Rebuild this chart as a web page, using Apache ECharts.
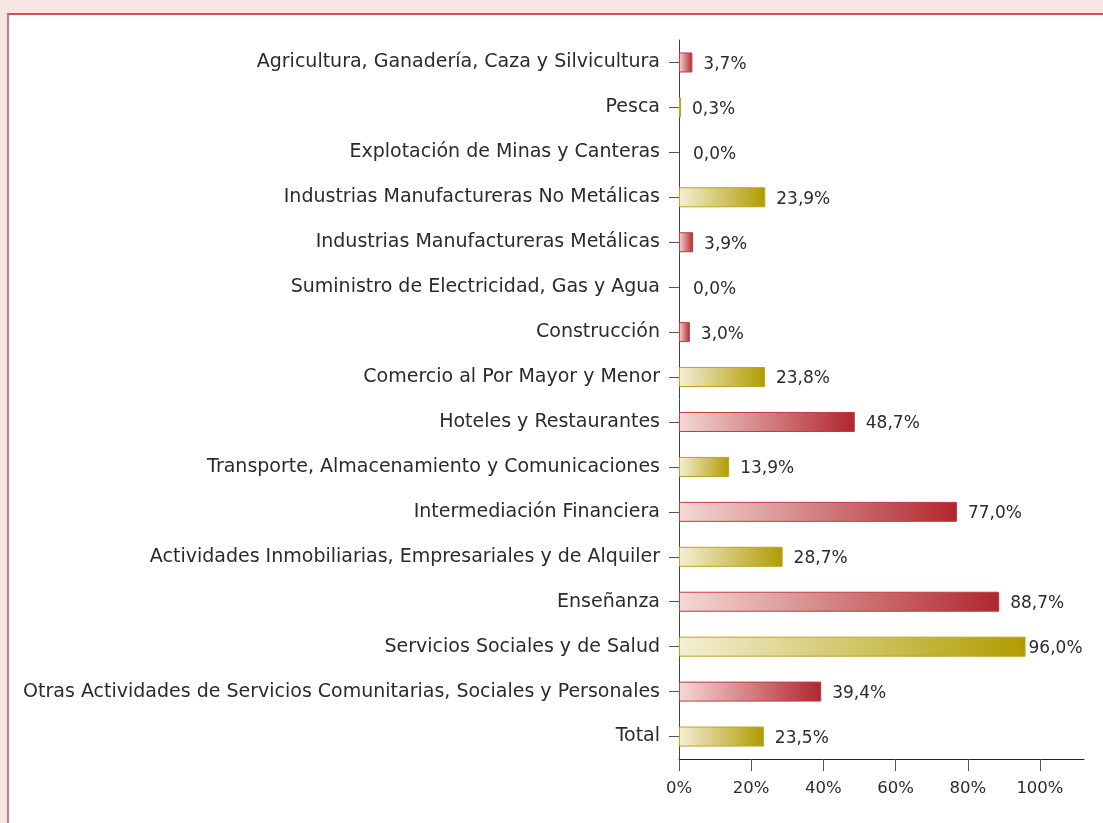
<!DOCTYPE html>
<html>
<head>
<meta charset="utf-8">
<script src="https://cdn.jsdelivr.net/npm/echarts@6/dist/echarts.min.js"></script>
<style>
  html, body { margin: 0; padding: 0; width: 1103px; height: 823px; overflow: hidden; background: #f7e6e1; }
  #frame { position: absolute; left: 7px; top: 13px; width: 1200px; height: 900px; background: #ffffff;
           border-top: 2px solid #c9555a; border-left: 2px solid #d27a7e; }
  #chart { position: absolute; left: 0; top: 0; width: 1103px; height: 823px; }
</style>
</head>
<body>
<div id="frame"></div>
<div id="chart"></div>
<script>
const categories = [
  'Agricultura, Ganadería, Caza y Silvicultura',
  'Pesca',
  'Explotación de Minas y Canteras',
  'Industrias Manufactureras No Metálicas',
  'Industrias Manufactureras Metálicas',
  'Suministro de Electricidad, Gas y Agua',
  'Construcción',
  'Comercio al Por Mayor y Menor',
  'Hoteles y Restaurantes',
  'Transporte, Almacenamiento y Comunicaciones',
  'Intermediación Financiera',
  'Actividades Inmobiliarias, Empresariales y de Alquiler',
  'Enseñanza',
  'Servicios Sociales y de Salud',
  'Otras Actividades de Servicios Comunitarias, Sociales y Personales',
  'Total'
];
const values = [3.7, 0.3, 0.0, 23.9, 3.9, 0.0, 3.0, 23.8, 48.7, 13.9, 77.0, 28.7, 88.7, 96.0, 39.4, 23.5];
const tickValues = [0, 20, 40, 60, 80, 100];

const FONT = 'DejaVu Sans';
const TEXT = '#2b2b2b';
const red = { from: '#f3d9d4', to: '#b0262e', border: '#c23a42' };
const olive = { from: '#f4efd6', to: '#b09c00', border: '#b9a51c' };

const data = values.map(function (v, i) {
  const c = (i % 2 === 0) ? red : olive;
  return {
    value: v,
    itemStyle: v > 0 ? {
      color: new echarts.graphic.LinearGradient(0, 0, 1, 0, [
        { offset: 0, color: c.from },
        { offset: 1, color: c.to }
      ]),
      borderColor: c.border,
      borderWidth: 1
    } : { color: 'rgba(0,0,0,0)', borderWidth: 0 },
    label: { distance: v > 90 ? 3 : (v > 0 ? 11 : 12) }
  };
});

const chart = echarts.init(document.getElementById('chart'), null, { renderer: 'canvas' });
chart.setOption({
  backgroundColor: 'transparent',
  animation: false,
  textStyle: { fontFamily: FONT },
  grid: { left: 679, top: 40, width: 405, height: 719, containLabel: false },
  xAxis: {
    type: 'value',
    min: 0,
    max: 112.2,
    splitLine: { show: false },
    axisLine: { show: true, lineStyle: { color: '#222', width: 1 } },
    axisTick: { show: true, length: 12, customValues: tickValues, lineStyle: { color: '#555' } },
    axisLabel: {
      customValues: tickValues,
      margin: 21,
      fontSize: 16.5,
      color: TEXT,
      fontFamily: FONT,
      formatter: function (v) { return v + '%'; }
    }
  },
  yAxis: {
    type: 'category',
    inverse: true,
    data: categories,
    axisLine: { show: true, lineStyle: { color: '#444', width: 1 } },
    axisTick: { show: true, alignWithLabel: true, length: 10, lineStyle: { color: '#555' } },
    axisLabel: { margin: 19, fontSize: 19, color: TEXT, fontFamily: FONT, interval: 0 }
  },
  series: [{
    type: 'bar',
    data: data,
    barWidth: 20,
    barMinHeight: 2,
    label: {
      show: true,
      position: 'right',
      fontSize: 17,
      color: TEXT,
      fontFamily: FONT,
      offset: [0, 2],
      formatter: function (p) { return p.value.toFixed(1).replace('.', ',') + '%'; }
    }
  }]
});
</script>
</body>
</html>
